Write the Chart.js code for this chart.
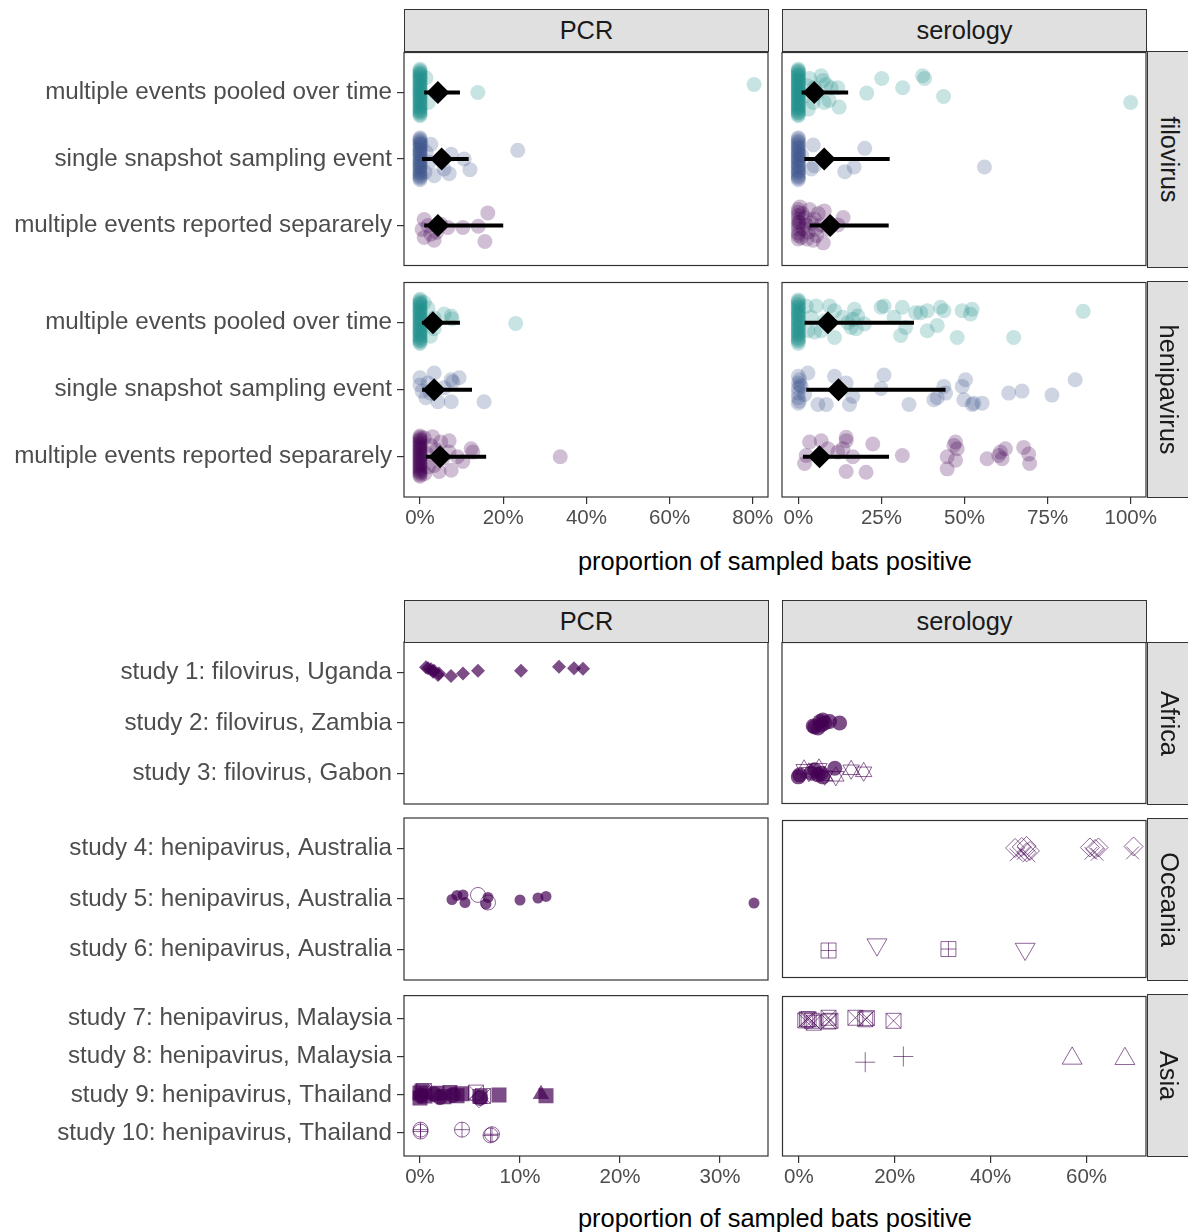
<!DOCTYPE html>
<html>
<head>
<meta charset="utf-8">
<script src="https://cdn.jsdelivr.net/npm/chart.js@4.4.1/dist/chart.umd.min.js"></script>
<style>
  body { margin: 0; background: #fff; }
  #fig { position: relative; width: 1188px; height: 1232px; overflow: hidden; background: #fff; }
  #fig canvas { position: absolute; }
  .strip { position: absolute; box-sizing: border-box; background: #e0e0e0; border: 1px solid #333;
           display: flex; align-items: center; justify-content: center; color: #1a1a1a; white-space: nowrap; }
  .strip.side span { display: inline-block; transform: rotate(90deg); }
  .axtitle { position: absolute; left: 404px; width: 742px; text-align: center; color: #000; white-space: nowrap; }
</style>
</head>
<body>
<div id="fig"></div>
<script>
/* ============================================================
   DATA
   ============================================================ */

const sampleTypes   = ['multiple events reported separarely', 'single snapshot sampling event', 'multiple events pooled over time'];
const virusRows     = ['filovirus', 'henipavirus'];
const methodCols    = ['PCR', 'serology'];
const regionRows    = ['Africa', 'Oceania', 'Asia'];
const africaStudies = ['study 3: filovirus, Gabon', 'study 2: filovirus, Zambia', 'study 1: filovirus, Uganda'];
const oceaniaStudies = ['study 6: henipavirus, Australia', 'study 5: henipavirus, Australia', 'study 4: henipavirus, Australia'];
const asiaStudies   = ['study 10: henipavirus, Thailand', 'study 9: henipavirus, Thailand', 'study 8: henipavirus, Malaysia', 'study 7: henipavirus, Malaysia'];
const axisTitle     = 'proportion of sampled bats positive';

const topPcrTicks    = [0, 20, 40, 60, 80];
const topSeroTicks   = [0, 25, 50, 75, 100];
const bottomPcrTicks = [0, 10, 20, 30];
const bottomSeroTicks = [0, 20, 40, 60];

// [percent positive, vertical jitter] per sampling design
const filoPcrSep = [[1.0,0.09],[16.3,0.19],[10.3,-0.03],[14.0,-0.01],[6.7,-0.03],[1.0,-0.18],[3.4,-0.22],[15.6,-0.24],[2.6,-0.13],[1.9,0.0],[5.0,0.02],[4.0,-0.1],[0.5,-0.06]];
const filoPcrSingle = [[0,0.32],[0,0.3],[0,0.28],[0,0.26],[0,0.24],[0,0.22],[0,0.2],[0,0.17],[0,0.15],[0,0.13],[0,0.11],[0,0.09],[0,0.07],[0,0.05],[0,0.03],[0,0.0],[0,-0.02],[0,-0.04],[0,-0.06],[0,-0.08],
  [0,-0.1],[0,-0.12],[0,-0.14],[0,-0.17],[0,-0.19],[0,-0.21],[0,-0.23],[0,-0.25],[0,-0.27],[0,-0.29],[0,-0.31],
  [0.3,0.22],[2.6,0.22],[7.5,0.07],[10.6,0.0],[12.0,-0.16],[7.0,-0.22],[3.4,-0.25],[5.8,-0.15],[23.5,0.13],[1.5,0.1],[2.2,-0.05],[1.2,-0.2]];
const filoPcrPooled = [[0,0.35],[0,0.33],[0,0.31],[0,0.29],[0,0.28],[0,0.26],[0,0.24],[0,0.22],[0,0.21],[0,0.19],[0,0.17],[0,0.15],[0,0.13],[0,0.11],[0,0.1],[0,0.08],[0,0.06],[0,0.04],[0,0.03],[0,0.01],
  [0,-0.01],[0,-0.03],[0,-0.04],[0,-0.06],[0,-0.08],[0,-0.1],[0,-0.12],[0,-0.13],[0,-0.15],[0,-0.17],[0,-0.19],[0,-0.21],[0,-0.22],[0,-0.24],[0,-0.26],[0,-0.28],[0,-0.29],[0,-0.31],[0,-0.33],[0,-0.35],
  [1.4,0.22],[2.0,-0.15],[13.9,0.0],[80.3,0.12]];

const filoSeroSep = [[0,0.24],[0,0.2],[0,0.15],[0,0.1],[0,0.05],[0,0.0],[0,-0.05],[0,-0.11],[0,-0.15],[0,-0.2],[0.3,0.05],[0.9,-0.18],[0.5,0.28],[1.5,-0.05],[2.0,0.12],[2.4,0.01],[3.0,-0.1],[3.4,0.24],
  [4.5,-0.22],[4.8,0.1],[5.5,-0.15],[6.0,0.18],[6.9,0.01],[7.5,-0.26],[7.8,0.22],[9.0,-0.05],[11.9,0.01],[13.5,0.12],[1.2,0.18],[2.6,-0.2],[4.0,0.04],[5.2,-0.06]];
const filoSeroSingle = [[0,0.32],[0,0.3],[0,0.27],[0,0.25],[0,0.23],[0,0.2],[0,0.18],[0,0.16],[0,0.14],[0,0.11],[0,0.09],[0,0.07],[0,0.05],[0,0.02],[0,0.0],[0,-0.02],[0,-0.04],[0,-0.07],[0,-0.09],
  [0,-0.11],[0,-0.13],[0,-0.16],[0,-0.18],[0,-0.2],[0,-0.22],[0,-0.25],[0,-0.27],[0,-0.29],[0,-0.31],
  [4.5,0.21],[3.9,-0.15],[4.8,-0.1],[20.0,0.16],[16.8,-0.12],[14.0,-0.19],[56.0,-0.12],[1.0,0.05]];
const filoSeroPooled = [[0,0.35],[0,0.33],[0,0.32],[0,0.3],[0,0.28],[0,0.26],[0,0.25],[0,0.23],[0,0.21],[0,0.19],[0,0.18],[0,0.16],[0,0.14],[0,0.12],[0,0.11],[0,0.09],[0,0.07],[0,0.05],[0,0.04],[0,0.02],[0,0.0],
  [0,-0.02],[0,-0.03],[0,-0.05],[0,-0.07],[0,-0.09],[0,-0.1],[0,-0.12],[0,-0.14],[0,-0.16],[0,-0.17],[0,-0.19],[0,-0.21],[0,-0.23],[0,-0.24],[0,-0.26],[0,-0.28],[0,-0.3],[0,-0.31],[0,-0.33],[0,-0.35],
  [3.4,0.21],[6.9,0.25],[7.5,0.18],[9.9,0.07],[11.9,0.07],[4.5,-0.15],[7.8,-0.15],[9.3,-0.12],[12.3,-0.22],[4.8,0.07],[2.0,-0.05],[20.6,-0.01],[25.1,0.21],[31.4,0.07],[37.4,0.25],[38.0,0.21],[43.7,-0.06],[100,-0.15],
  [2.8,0.1],[5.6,-0.02],[8.4,0.12],[3.0,-0.25]];

const heniPcrSep = [[0,0.31],[0,0.29],[0,0.27],[0,0.25],[0,0.23],[0,0.21],[0,0.19],[0,0.17],[0,0.15],[0,0.13],[0,0.11],[0,0.09],[0,0.07],[0,0.05],[0,0.03],[0,0.01],[0,-0.01],[0,-0.03],[0,-0.05],[0,-0.07],
  [0,-0.09],[0,-0.11],[0,-0.13],[0,-0.15],[0,-0.17],[0,-0.19],[0,-0.21],[0,-0.23],[0,-0.25],[0,-0.27],[0,-0.29],
  [2.6,0.17],[5.0,0.22],[7.0,0.24],[7.0,0.07],[10.3,-0.07],[12.3,0.12],[12.7,0.07],[4.6,-0.22],[7.5,-0.2],[3.4,-0.13],[33.7,0.0],[1.5,0.05],[2.0,-0.15],[5.5,-0.02],[9.0,0.0],[1.0,0.28],[3.0,0.3],[1.2,-0.25],[4.0,0.1]];
const heniPcrSingle = [[0,0.18],[0,0.07],[3.4,0.25],[1.9,0.1],[1.4,-0.12],[4.3,-0.18],[7.5,0.15],[9.4,0.18],[7.9,0.12],[7.5,-0.18],[15.4,-0.18],[5.8,0.03],[2.5,-0.05],[0.5,-0.02]];
const heniPcrPooled = [[0,0.35],[0,0.33],[0,0.31],[0,0.29],[0,0.28],[0,0.26],[0,0.24],[0,0.22],[0,0.2],[0,0.18],[0,0.17],[0,0.15],[0,0.13],[0,0.11],[0,0.09],[0,0.07],[0,0.06],[0,0.04],[0,0.02],[0,0.0],
  [0,-0.02],[0,-0.04],[0,-0.05],[0,-0.07],[0,-0.09],[0,-0.11],[0,-0.13],[0,-0.15],[0,-0.16],[0,-0.18],[0,-0.2],[0,-0.22],[0,-0.24],[0,-0.26],[0,-0.27],[0,-0.29],[0,-0.31],
  [1.0,0.3],[1.9,0.22],[2.5,-0.2],[3.4,-0.09],[3.4,0.07],[5.8,0.13],[7.5,0.1],[7.7,0.06],[23.0,-0.01]];

const heniSeroSep = [[3.4,0.22],[6.9,0.24],[2.4,0.02],[1.9,-0.1],[8.9,0.12],[11.9,0.07],[14.4,0.29],[14.4,0.24],[13.4,0.12],[16.4,0.0],[14.4,-0.22],[20.4,-0.23],[22.4,0.19],[31.3,0.02],
  [44.8,0.0],[44.8,-0.18],[46.8,0.17],[47.3,0.22],[47.8,0.12],[47.3,-0.05],[56.8,-0.03],[60.3,0.02],[60.8,0.07],[62.3,0.12],[61.3,-0.03],[67.8,0.14],[69.3,0.04],[69.6,-0.1]];
const heniSeroSingle = [[0.4,0.15],[0.9,0.05],[0,-0.2],[2.9,0.25],[1.9,-0.07],[5.9,-0.22],[8.4,-0.22],[10.9,0.2],[14.4,0.1],[16.4,-0.1],[15.4,-0.22],[25.8,0.22],[24.9,0.02],[33.3,-0.22],
  [40.8,-0.15],[43.8,0.05],[44.3,-0.05],[49.3,0.05],[50.3,0.15],[49.8,-0.15],[52.3,-0.22],[52.8,-0.2],[55.3,-0.2],[63.3,-0.05],[67.3,-0.02],[76.3,-0.08],[83.3,0.15],[41.8,-0.12],
  [0,0.1],[0,-0.05],[0.3,-0.17],[0,0.2],[0,0.02],[0,-0.12],[0.5,0.07]];
const heniSeroPooled = [[0,0.34],[0,0.32],[0,0.3],[0,0.27],[0,0.25],[0,0.23],[0,0.21],[0,0.18],[0,0.16],[0,0.14],[0,0.12],[0,0.1],[0,0.08],[0,0.05],[0,0.03],[0,0.01],[0,-0.01],[0,-0.04],[0,-0.06],
  [0,-0.08],[0,-0.1],[0,-0.13],[0,-0.15],[0,-0.17],[0,-0.19],[0,-0.22],[0,-0.24],[0,-0.26],[0,-0.28],[0,-0.31],
  [2.4,0.25],[3.9,0.08],[5.4,0.25],[2.9,-0.12],[4.9,-0.14],[6.9,-0.12],[9.4,0.25],[10.9,0.18],[13.4,0.08],[14.9,0.0],[10.9,-0.22],[15.9,-0.07],[16.9,0.2],[17.9,0.1],[19.9,-0.02],
  [24.9,0.23],[25.8,0.25],[28.8,0.08],[31.3,0.23],[32.3,-0.07],[30.8,-0.19],[35.3,0.15],[36.8,0.15],[38.8,0.18],[38.8,-0.12],[41.8,-0.04],[42.8,0.23],[43.8,0.18],
  [49.3,0.18],[51.8,0.13],[52.3,0.2],[47.8,-0.22],[64.8,-0.22],[85.7,0.17],[7.9,0.03],[16.4,0.05],[17.4,-0.09]];

// mean and interval, ordered [separately, single snapshot, pooled]
const filoPcrMean  = [4.3, 5.2, 4.3];  const filoPcrLow  = [1.0, 0.5, 1.0];  const filoPcrHigh  = [20.0, 11.7, 9.6];
const filoSeroMean = [9.6, 7.8, 4.8];  const filoSeroLow = [3.4, 1.8, 1.0];  const filoSeroHigh = [27.2, 27.5, 15.0];
const heniPcrMean  = [4.8, 3.4, 3.1];  const heniPcrLow  = [1.4, 0.5, 0.5];  const heniPcrHigh  = [15.9, 12.5, 9.6];
const heniSeroMean = [6.4, 12.1, 8.9]; const heniSeroLow = [1.4, 2.4, 1.9];  const heniSeroHigh = [27.3, 44.3, 34.8];

// per-study points, [percent positive, vertical jitter]
const study1PcrDiamonds   = [[0.6,0.1],[0.8,0.08],[1.1,0.06],[1.3,0.01],[1.4,0.03],[1.8,-0.05],[1.9,-0.02],[3.1,-0.07],[4.3,-0.02],[5.8,0.03],[10.1,0.03],[13.9,0.11],[15.4,0.08],[16.3,0.07]];
const study2SeroCircles   = [[3.1,-0.06],[4.1,-0.1],[5.1,0.06],[5.5,0],[6.5,0.03],[8.6,0],[3.4,-0.08],[4.8,-0.04],[4.5,0.03]];
const study3SeroCircles   = [[0.3,-0.03],[0,-0.07],[2.7,0],[4.8,0],[5.1,-0.07],[7.6,0.1],[3.4,0.07],[4.1,-0.03]];
const study3SeroStars     = [[1.2,0.08],[2.2,0.02],[4.3,0.1],[5.5,-0.05],[7.8,-0.06],[11.0,0.07],[13.6,0.03]];
const study4SeroDiamonds  = [[45.1,0.04],[46.5,0.06],[47.5,0.08],[48.2,-0.02],[47.5,-0.05],[60.7,0.05],[61.8,0.02],[62.5,0.05],[69.8,0.07]];
const study4SeroCrosses   = [[45.3,-0.1],[46.8,-0.07],[48.0,-0.12],[60.9,-0.07],[62.2,-0.09],[69.6,-0.06]];
const study5PcrCircles    = [[3.2,-0.01],[3.7,0.07],[4.3,0.08],[4.5,-0.07],[6.8,0.03],[6.6,-0.1],[10.0,-0.02],[11.8,0.02],[12.6,0.05],[33.4,-0.08]];
const study5PcrOpenCircles = [[5.8,0.08],[6.8,-0.07]];
const study6SeroSquarePlus = [[6.2,-0.05],[31.2,-0.02]];
const study6SeroTriDown   = [[16.3,0.07],[47.2,-0.02]];
const study7SeroSquareX   = [[1.35,-0.03],[1.7,0.0],[2.05,0.0],[2.7,-0.04],[3.1,-0.09],[6.2,0.04],[6.2,-0.06],[6.6,-0.04],[11.8,0.04],[13.85,0.0],[14.2,0.03],[19.75,-0.04]];
const study8SeroPlus      = [[13.85,-0.13],[21.8,0.02]];
const study8SeroTriUp     = [[57.0,-0.03],[68.0,-0.04]];
const study9PcrSquares    = [[0,0.05],[0,-0.08],[0.2,0.1],[0.5,-0.03],[1.7,0.04],[2.4,-0.05],[3.0,0.06],[3.7,-0.02],[4.2,0.03],[6.0,-0.04],[7.9,0.0],[12.6,-0.02]];
const study9PcrCircles    = [[0.1,-0.02],[1.4,0.02],[2.0,-0.06],[3.3,0.0],[6.0,-0.08]];
const study9PcrTriangles  = [[12.1,0.02]];
const study9PcrSquareX    = [[5.6,0.06],[6.3,-0.03],[0.4,0.1]];
const study9PcrOpenDiamonds = [[5.9,-0.1]];
const study10PcrCirclePlus = [[0.05,0.09],[0.05,0.04],[4.2,0.09],[7.05,-0.06],[7.2,-0.03]];

/* ============================================================
   SETUP
   ============================================================ */

function fontAvailable(name) {
  const c = document.createElement('canvas').getContext('2d');
  const s = 'proportion of sampled bats positive';
  c.font = '40px monospace';
  const a = c.measureText(s).width;
  c.font = `40px "${name}", monospace`;
  return c.measureText(s).width !== a;
}
const NARROW = fontAvailable('Liberation Sans Narrow');
const FONT   = NARROW ? '"Liberation Sans Narrow", "Liberation Sans", Arial, sans-serif' : '"Liberation Sans", Arial, sans-serif';
const K      = NARROW ? 1 : 0.82;
const TICK_SIZE  = 25 * K;
const LABEL_SIZE = 29.5 * K;
const STRIP_SIZE = 31 * K;

const GREY30 = '#4d4d4d';
const TEAL = '#21908C', BLUE = '#3B528B', PURPLE = '#440154';
const groupColours = [PURPLE, BLUE, TEAL];
const FILL = 'rgba(68,1,84,0.7)';
const LINE = 'rgba(68,1,84,0.6)';
const NONE = 'rgba(0,0,0,0)';

const COL_X = [[404, 768], [782, 1146]];
const TOP_ROWS_Y = [[51, 267], [281, 497]];
const BOTTOM_ROWS_Y = [[642, 804], [818, 980], [994, 1156]];

const fig = document.getElementById('fig');

function rgba(hex, a) {
  const n = parseInt(hex.slice(1), 16);
  return `rgba(${n >> 16},${(n >> 8) & 255},${n & 255},${a})`;
}

const panelBox = {
  id: 'panelBox',
  afterDatasetsDraw(chart) {
    const { ctx, chartArea: a } = chart;
    ctx.save();
    ctx.strokeStyle = '#333';
    ctx.lineWidth = 1.2;
    ctx.strokeRect(a.left, a.top, a.right - a.left, a.bottom - a.top);
    ctx.restore();
  },
};

const gridOpts = { drawOnChartArea: false, drawTicks: true, tickLength: 7, tickColor: '#333', tickWidth: 1.2, color: '#333', lineWidth: 1.2 };

/* ============================================================
   PANEL
   ============================================================ */

function makePanel(o) {
  const [x0, x1] = COL_X[o.col];
  const [y0, y1] = o.rows;
  const cLeft  = o.col === 0 ? 0 : 770;
  const cRight = o.col === 0 ? 800 : 1188;
  const axisH  = o.showX ? 46 : 0;
  const cTop   = y0 - 10;
  const cBot   = y1 + (o.showX ? axisH : 10);

  const cv = document.createElement('canvas');
  cv.width = cRight - cLeft;
  cv.height = cBot - cTop;
  cv.style.left = cLeft + 'px';
  cv.style.top = cTop + 'px';
  fig.appendChild(cv);

  return new Chart(cv, {
    type: 'scatter',
    data: { datasets: o.datasets },
    options: {
      responsive: false,
      animation: false,
      events: [],
      layout: { padding: { left: o.col === 0 ? 0 : x0 - cLeft, right: cRight - x1, top: 10, bottom: o.showX ? 0 : 10 } },
      plugins: { legend: { display: false }, tooltip: { enabled: false }, colors: { enabled: false } },
      scales: {
        x: {
          type: 'linear', min: o.xMin, max: o.xMax, display: o.showX,
          afterBuildTicks: s => { s.ticks = o.xTicks.map(v => ({ value: v })); },
          afterFit: s => { s.height = axisH; s.paddingLeft = 0; s.paddingRight = 0; },
          grid: gridOpts,
          border: { display: false },
          ticks: { autoSkip: false, maxRotation: 0, padding: 2, color: GREY30, font: { family: FONT, size: TICK_SIZE }, callback: v => v + '%' },
        },
        y: {
          type: 'linear', min: o.yMin, max: o.yMax, display: o.col === 0,
          afterBuildTicks: s => { s.ticks = o.yLabels.map((_, i) => ({ value: i + 1 })); },
          afterFit: s => { s.width = o.col === 0 ? x0 : 0; s.paddingTop = 0; s.paddingBottom = 0; },
          grid: gridOpts,
          border: { display: false },
          ticks: { autoSkip: false, padding: 5, color: GREY30, font: { family: FONT, size: LABEL_SIZE }, callback: (v, i) => o.yLabels[i] },
        },
      },
    },
    plugins: [panelBox],
  });
}

/* ============================================================
   DATASET BUILDERS
   ============================================================ */

function pts(pairs, cat) { return pairs.map(([x, j]) => ({ x, y: cat + j })); }

function summarySets(groups, means, lows, highs) {
  const sets = [];
  means.forEach((m, i) => sets.push({
    data: [{ x: m, y: i + 1 }], pointStyle: 'rectRot', pointRadius: 11.5,
    backgroundColor: '#000', borderColor: '#000', pointBackgroundColor: '#000', pointBorderWidth: 0, order: 0,
  }));
  lows.forEach((lo, i) => sets.push({
    data: [{ x: lo, y: i + 1 }, { x: highs[i], y: i + 1 }], showLine: true,
    borderColor: '#000', backgroundColor: '#000', borderWidth: 4, pointRadius: 0, order: 1,
  }));
  groups.forEach((g, i) => sets.push({
    data: pts(g, i + 1), pointStyle: 'circle', pointRadius: 7.5,
    backgroundColor: rgba(groupColours[i], 0.25), borderColor: NONE,
    pointBackgroundColor: rgba(groupColours[i], 0.25), pointBorderWidth: 0, order: 2,
  }));
  return sets;
}

function marks(pairs, cat, style) {
  return Object.assign({ data: pts(pairs, cat), backgroundColor: NONE, borderColor: LINE }, style);
}

const filled   = (ps, r) => ({ pointStyle: ps, pointRadius: r, pointBackgroundColor: FILL, pointBorderWidth: 0 });
const open     = (ps, r, rot) => ({ pointStyle: ps, pointRadius: r, pointBackgroundColor: NONE, pointBorderColor: LINE, pointBorderWidth: 1, pointRotation: rot || 0 });

const squarePlus = (pairs, cat) => [marks(pairs, cat, open('rect', 10.6)), marks(pairs, cat, open('cross', 7.5))];
const squareX    = (pairs, cat) => [marks(pairs, cat, open('rect', 10.6)), marks(pairs, cat, open('crossRot', 10.6))];
const circlePlus = (pairs, cat) => [marks(pairs, cat, open('circle', 7.5)), marks(pairs, cat, open('cross', 7.5))];
const starTri    = (pairs, cat) => [marks(pairs, cat, open('triangle', 9.5)), marks(pairs, cat, open('triangle', 9.5, 180))];

/* ============================================================
   TOP FIGURE
   ============================================================ */

const topX = [{ min: -3.85, max: 83.65, ticks: topPcrTicks }, { min: -4.9, max: 104.6, ticks: topSeroTicks }];
const topSets = [
  [summarySets([filoPcrSep, filoPcrSingle, filoPcrPooled], filoPcrMean, filoPcrLow, filoPcrHigh),
   summarySets([filoSeroSep, filoSeroSingle, filoSeroPooled], filoSeroMean, filoSeroLow, filoSeroHigh)],
  [summarySets([heniPcrSep, heniPcrSingle, heniPcrPooled], heniPcrMean, heniPcrLow, heniPcrHigh),
   summarySets([heniSeroSep, heniSeroSingle, heniSeroPooled], heniSeroMean, heniSeroLow, heniSeroHigh)],
];
virusRows.forEach((_, r) => {
  methodCols.forEach((_, c) => {
    makePanel({
      col: c, rows: TOP_ROWS_Y[r], showX: r === 1,
      xMin: topX[c].min, xMax: topX[c].max, xTicks: topX[c].ticks,
      yMin: 0.4, yMax: 3.6, yLabels: sampleTypes,
      datasets: topSets[r][c],
    });
  });
});

/* ============================================================
   BOTTOM FIGURE
   ============================================================ */

const bottomX = [{ min: -1.6, max: 34.8, ticks: bottomPcrTicks }, { min: -3.4, max: 72.4, ticks: bottomSeroTicks }];
const bottomLabels = [africaStudies, oceaniaStudies, asiaStudies];
const bottomSets = [
  [ [marks(study1PcrDiamonds, 3, filled('rectRot', 7))],
    [marks(study2SeroCircles, 2, filled('circle', 7.5)), marks(study3SeroCircles, 1, filled('circle', 7.5)), ...starTri(study3SeroStars, 1)] ],
  [ [marks(study5PcrCircles, 2, filled('circle', 5.5)), marks(study5PcrOpenCircles, 2, open('circle', 7.5))],
    [marks(study4SeroDiamonds, 3, open('rectRot', 9.5)), marks(study4SeroCrosses, 3, open('crossRot', 9)),
     ...squarePlus(study6SeroSquarePlus, 1), marks(study6SeroTriDown, 1, open('triangle', 11.5, 180))] ],
  [ [marks(study9PcrSquares, 2, filled('rect', 10.6)), marks(study9PcrCircles, 2, filled('circle', 8)),
     marks(study9PcrTriangles, 2, filled('triangle', 9.5)), ...squareX(study9PcrSquareX, 2),
     marks(study9PcrOpenDiamonds, 2, open('rectRot', 9)), ...circlePlus(study10PcrCirclePlus, 1)],
    [...squareX(study7SeroSquareX, 4), marks(study8SeroPlus, 3, open('cross', 10)), marks(study8SeroTriUp, 3, open('triangle', 11.5))] ],
];
regionRows.forEach((_, r) => {
  methodCols.forEach((_, c) => {
    makePanel({
      col: c, rows: BOTTOM_ROWS_Y[r], showX: r === 2,
      xMin: bottomX[c].min, xMax: bottomX[c].max, xTicks: bottomX[c].ticks,
      yMin: 0.4, yMax: bottomLabels[r].length + 0.6, yLabels: bottomLabels[r],
      datasets: bottomSets[r][c],
    });
  });
});

/* ============================================================
   STRIPS & TITLES
   ============================================================ */

function strip(text, left, top, width, height, side) {
  const d = document.createElement('div');
  d.className = 'strip' + (side ? ' side' : '');
  Object.assign(d.style, { left: left + 'px', top: top + 'px', width: width + 'px', height: height + 'px', fontFamily: FONT, fontSize: STRIP_SIZE + 'px' });
  d.innerHTML = `<span>${text}</span>`;
  fig.appendChild(d);
}

methodCols.forEach((m, c) => {
  const [x0, x1] = COL_X[c];
  strip(m, x0, 9, x1 - x0 + 1, 43, false);
  strip(m, x0, 600, x1 - x0 + 1, 43, false);
});
virusRows.forEach((v, r) => strip(v, 1147, TOP_ROWS_Y[r][0], 44, TOP_ROWS_Y[r][1] - TOP_ROWS_Y[r][0] + 1, true));
regionRows.forEach((v, r) => strip(v, 1147, BOTTOM_ROWS_Y[r][0], 44, BOTTOM_ROWS_Y[r][1] - BOTTOM_ROWS_Y[r][0] + 1, true));

[561, 1218].forEach(cy => {
  const t = document.createElement('div');
  t.className = 'axtitle';
  Object.assign(t.style, { top: (cy - STRIP_SIZE * 0.6) + 'px', fontFamily: FONT, fontSize: STRIP_SIZE + 'px', lineHeight: (STRIP_SIZE * 1.2) + 'px' });
  t.textContent = axisTitle;
  fig.appendChild(t);
});
</script>
</body>
</html>
